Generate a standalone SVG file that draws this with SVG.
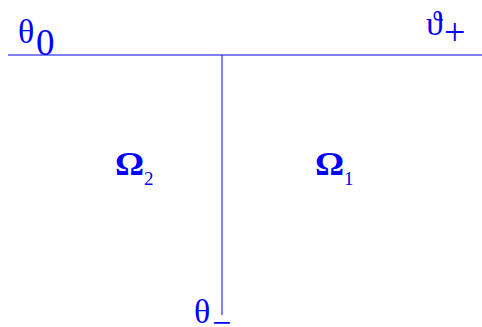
<svg xmlns="http://www.w3.org/2000/svg" width="482" height="327" viewBox="0 0 482 327">
<style>
.t{font-family:"Liberation Serif","DejaVu Serif",serif;fill:#0000ff}
.om{font-size:33px;font-weight:bold}
.sub{font-size:19px}
.ln{stroke:#0000ff;stroke-width:1;fill:none}
</style>
<rect width="482" height="327" fill="#ffffff"/>
<g id="connectors">
<line class="ln" x1="8" y1="55" x2="482" y2="55"/>
<line class="ln" x1="222" y1="55" x2="222" y2="315"/>
</g>
<g id="theta0"><text class="t" x="18" y="43" font-size="34">θ<tspan x="36" y="55" font-size="37">0</tspan></text></g>
<g id="thetaplus"><text class="t" x="426" y="35" font-size="34">ϑ<tspan x="444" y="45" font-size="38">+</tspan></text></g>
<g id="thetaminus"><text class="t" x="194" y="323" font-size="34">θ<tspan x="212" y="334">−</tspan></text></g>
<g id="omega2"><text class="t om" transform="translate(115,175) scale(1.1,1)">Ω</text><text class="t sub" x="144" y="185">2</text></g>
<g id="omega1"><text class="t om" transform="translate(315,175) scale(1.1,1)">Ω</text><text class="t sub" x="344" y="185">1</text></g>
</svg>
